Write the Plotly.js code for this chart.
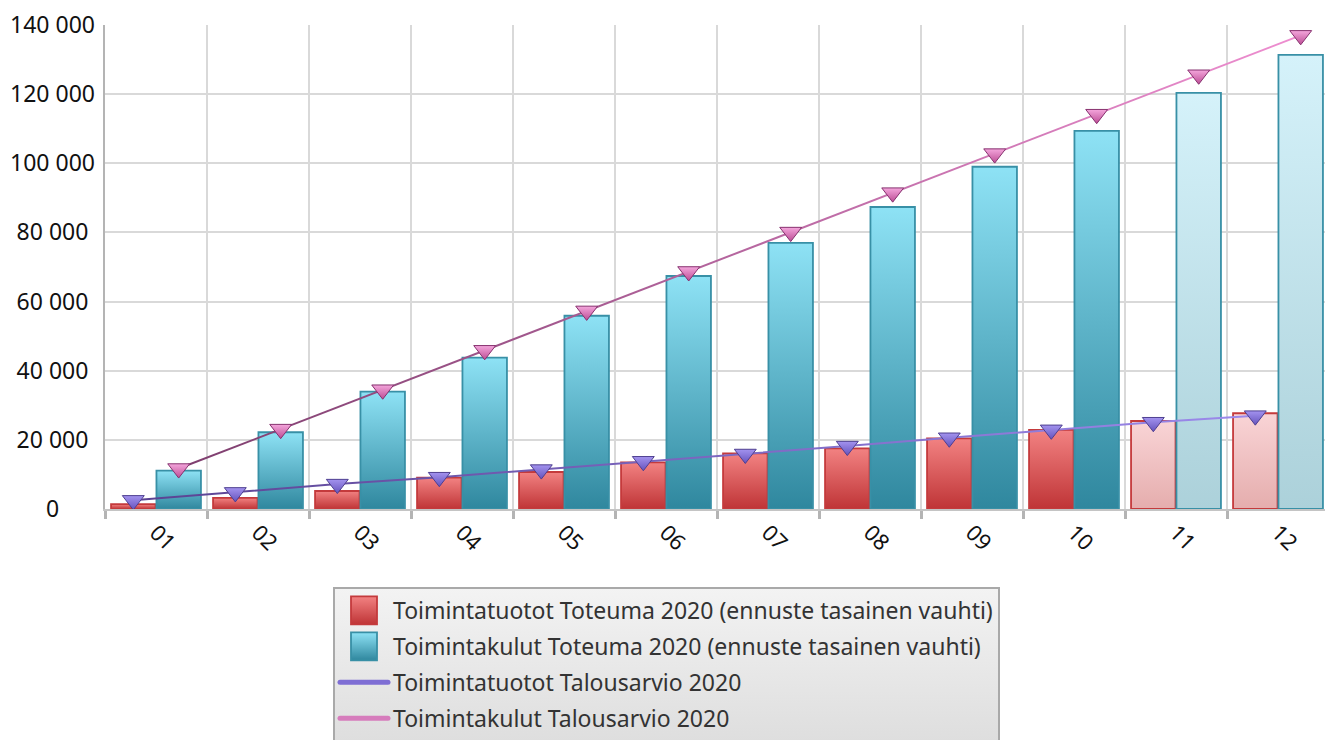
<!DOCTYPE html>
<html>
<head>
<meta charset="utf-8">
<script src="https://cdn.plot.ly/plotly-3.0.1.min.js"></script>
<style>
html,body{margin:0;padding:0;background:#fff;overflow:hidden;}
#chart{width:1329px;height:740px;}
</style>
</head>
<body>
<div id="chart"></div>
<script>
// ---- data ----
const months = ['01','02','03','04','05','06','07','08','09','10','11','12'];
const tuototToteuma = [1400, 3200, 5200, 9050, 10700, 13500, 16100, 17550, 20450, 22900, 25450, 27700];
const kulutToteuma  = [11100, 22200, 33950, 43800, 55900, 67400, 76950, 87350, 99000, 109400, 120350, 131350];
const tuototBudget  = [2500, 4800, 7200, 9200, 11400, 13800, 15900, 18200, 20600, 22900, 25100, 27000];
const kulutBudget   = [11700, 23100, 34500, 45900, 57300, 68700, 80100, 91500, 102800, 114200, 125600, 137000];
const forecastMonths = ['11','12'];
const names = [
  'Toimintatuotot Toteuma 2020 (ennuste tasainen vauhti)',
  'Toimintakulut Toteuma 2020 (ennuste tasainen vauhti)',
  'Toimintatuotot Talousarvio 2020',
  'Toimintakulut Talousarvio 2020'
];

const isFc = months.map(m => forecastMonths.includes(m));
const FONT = '"Noto Sans", "Open Sans", sans-serif';
const W = 1329, PL = 105;

const traces = [
  {type:'bar', x:months, y:tuototToteuma, name:names[0], legendgroup:'a', offsetgroup:'1',
   marker:{color:isFc.map(f=>f?'#f2c4c5':'#dd5a5a'), line:{color:'#c43a3c', width:1.8}}},
  {type:'bar', x:months, y:kulutToteuma, name:names[1], legendgroup:'b', offsetgroup:'2',
   marker:{color:isFc.map(f=>f?'#c4e4ec':'#5ab4cc'), line:{color:'#3890a6', width:1.8}}},
  {type:'scatter', mode:'lines+markers', x:months, y:tuototBudget, name:names[2], legendgroup:'c', offsetgroup:'1',
   line:{color:'#7a62c8', width:2}, marker:{symbol:'triangle-down', size:19, color:'#8372d6', line:{color:'#4e3f90', width:1}}},
  {type:'scatter', mode:'lines+markers', x:months, y:kulutBudget, name:names[3], legendgroup:'d', offsetgroup:'2',
   line:{color:'#c060a8', width:2}, marker:{symbol:'triangle-down', size:19, color:'#dc6cb8', line:{color:'#86306e', width:1}}}
];

const layout = {
  width:W, height:740,
  margin:{l:PL, r:0, t:25, b:231, pad:0, autoexpand:false},
  paper_bgcolor:'#fff', plot_bgcolor:'#fff',
  font:{family:FONT, size:23, color:'#111'},
  separators:', ',
  barmode:'group', bargap:0.11, bargroupgap:0.02,
  scattermode:'group', scattergap:0.11,
  showlegend:true,
  legend:{x:(333-PL)/(W-PL), xanchor:'left', y:-78/484, yanchor:'top',
          bgcolor:'#ebebeb', bordercolor:'#a9a9a9', borderwidth:2,
          font:{family:FONT, size:23, color:'#333'},
          traceorder:'grouped', tracegroupgap:3, itemwidth:48},
  xaxis:{type:'category', tickson:'boundaries', showgrid:true, gridcolor:'#d9d9d9', gridwidth:2,
         ticks:'outside', ticklen:8, tickwidth:3, tickcolor:'#b4b4b4',
         showline:true, linecolor:'#c4c4c4', linewidth:2,
         tickangle:45, tickfont:{family:FONT, size:22, color:'#111'}, fixedrange:true},
  yaxis:{range:[0,140000], dtick:20000, tickformat:',d', showgrid:true, gridcolor:'#d9d9d9', gridwidth:2,
         showline:true, linecolor:'#b4b4b4', linewidth:2, zeroline:false, ticks:'',
         tickfont:{family:FONT, size:23, color:'#111'}, fixedrange:true}
};

const SVGNS = 'http://www.w3.org/2000/svg';
function addGrad(defs, id, stops, horiz){
  const g = document.createElementNS(SVGNS,'linearGradient');
  g.setAttribute('id', id);
  g.setAttribute('x1','0'); g.setAttribute('y1','0');
  g.setAttribute('x2', horiz?'1':'0'); g.setAttribute('y2', horiz?'0':'1');
  stops.forEach(([o,c])=>{
    const s = document.createElementNS(SVGNS,'stop');
    s.setAttribute('offset',o); s.setAttribute('stop-color',c);
    g.appendChild(s);
  });
  defs.appendChild(g);
}

Plotly.newPlot('chart', traces, layout, {displayModeBar:false, staticPlot:true}).then(gd => {
  const svg = gd.querySelector('svg.main-svg');
  let defs = svg.querySelector('defs');
  if(!defs){ defs = document.createElementNS(SVGNS,'defs'); svg.insertBefore(defs, svg.firstChild); }
  addGrad(defs,'gRed',[['0','#f28282'],['1','#bf3436']]);
  addGrad(defs,'gRedP',[['0','#f9d4d6'],['1','#e5adad']]);
  addGrad(defs,'gBlue',[['0','#8ee2f5'],['1','#2f879e']]);
  addGrad(defs,'gBlueP',[['0','#d5f2fa'],['1','#acd1da']]);
  addGrad(defs,'gPurpLine',[['0','#5a4292'],['1','#9c8aec']],true);
  addGrad(defs,'gPinkLine',[['0','#7e3e6e'],['1','#ee8ed0']],true);
  addGrad(defs,'gPurpMk',[['0','#a393ef'],['1','#6552bc']]);
  addGrad(defs,'gPinkMk',[['0','#f4a6dc'],['1','#bc4c94']]);
  addGrad(defs,'gLegend',[['0','#f3f3f3'],['1','#dedede']]);

  const barTraces = gd.querySelectorAll('.barlayer .trace');
  const bg = [['gRed','gRedP'],['gBlue','gBlueP']];
  barTraces.forEach((t,ti)=>{
    t.querySelectorAll('.point path').forEach((p,i)=>{
      p.style.fill = 'url(#'+(isFc[i]?bg[ti][1]:bg[ti][0])+')';
    });
  });
  const scTraces = gd.querySelectorAll('.scatterlayer .trace');
  const lg = ['gPurpLine','gPinkLine'], mg = ['gPurpMk','gPinkMk'];
  scTraces.forEach((t,ti)=>{
    t.querySelectorAll('.js-line').forEach(p=>{ p.style.stroke='url(#'+lg[ti]+')'; });
    t.querySelectorAll('.points path').forEach(p=>{ p.style.fill='url(#'+mg[ti]+')'; });
  });
  // centre the y tick labels in the left margin, as in the reference
  gd.querySelectorAll('.ytick text').forEach(t=>{
    const r = t.getBoundingClientRect();
    const dx = 52.5 - (r.left + r.width/2);
    t.setAttribute('x', parseFloat(t.getAttribute('x')||0) + dx);
  });
  // legend styling
  const lbg = gd.querySelector('.legend .bg');
  if(lbg) lbg.style.fill = 'url(#gLegend)';
  const legTraces = gd.querySelectorAll('.legend .traces');
  legTraces.forEach((t,ti)=>{
    if(ti<2){
      t.querySelectorAll('.legendpoints path').forEach(p=>{
        p.setAttribute('d','M13,14H-13V-14H13Z');
        p.style.fill = 'url(#'+(ti===0?'gRed':'gBlue')+')';
      });
    } else {
      t.querySelectorAll('.scatterpts').forEach(p=>{ p.style.display='none'; });
      t.querySelectorAll('.js-line').forEach(p=>{
        p.style.strokeWidth='5px';
        p.style.stroke = ti===2 ? '#7e6ed4' : '#d67cbc';
        p.style.strokeLinecap='round';
      });
    }
  });
});
</script>
</body>
</html>
